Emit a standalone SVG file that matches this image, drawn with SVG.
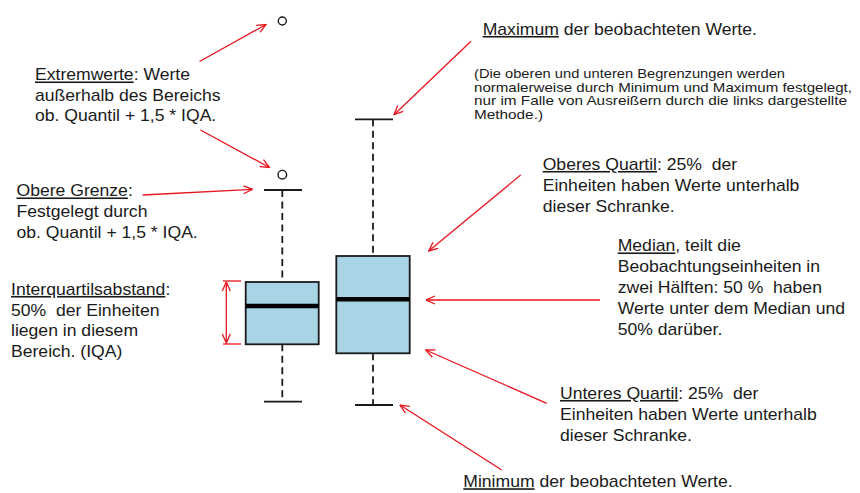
<svg xmlns="http://www.w3.org/2000/svg" width="860" height="493" viewBox="0 0 860 493">
<defs>
<marker id="ah" viewBox="0 0 10 10" refX="9.5" refY="5" markerWidth="10" markerHeight="10" orient="auto-start-reverse" markerUnits="userSpaceOnUse">
<path d="M0.5,1 L9.5,5 L0.5,9" fill="none" stroke="#e8141e" stroke-width="1.3"/>
</marker>
<style>
.t{font-family:"Liberation Sans",Arial,sans-serif;font-size:16px;fill:#1a1a1a}
.s{font-family:"Liberation Sans",Arial,sans-serif;font-size:13.5px;fill:#1a1a1a}
.u{text-decoration:underline}
.box{fill:#a9d4e6;stroke:#1a1a1a;stroke-width:1.8}
.med{stroke:#000;stroke-width:4.5}
.wh{stroke:#1a1a1a;stroke-width:1.8;stroke-dasharray:7 4.5;fill:none}
.cap{stroke:#1a1a1a;stroke-width:1.8}
.out{fill:none;stroke:#1a1a1a;stroke-width:1.4}
.ar{stroke:#e8141e;stroke-width:1.3;fill:none;marker-end:url(#ah)}
</style>
</defs>
<rect width="860" height="493" fill="#fff"/>

<g id="boxplot-left">
<circle class="out" cx="282.3" cy="21" r="4"/>
<circle class="out" cx="282.3" cy="174.7" r="4.3"/>
<line class="cap" x1="264" y1="190" x2="302" y2="190"/>
<line class="wh" x1="282.3" y1="190" x2="282.3" y2="282"/>
<rect class="box" x="245.7" y="282" width="73" height="62.3"/>
<line class="med" x1="245.7" y1="306" x2="318.7" y2="306"/>
<line class="wh" x1="282.3" y1="344.3" x2="282.3" y2="401.7"/>
<line class="cap" x1="264" y1="401.7" x2="302" y2="401.7"/>
</g>

<g id="boxplot-right">
<line class="cap" x1="355" y1="119.3" x2="393" y2="119.3"/>
<line class="wh" x1="373" y1="119.3" x2="373" y2="256"/>
<rect class="box" x="336.3" y="256" width="73.4" height="97.3"/>
<line class="med" x1="336.3" y1="299.3" x2="409.7" y2="299.3"/>
<line class="wh" x1="373" y1="353.3" x2="373" y2="405"/>
<line class="cap" x1="355" y1="405" x2="393" y2="405"/>
</g>

<g id="connectors">
<line class="ar" x1="199.5" y1="61.5" x2="266" y2="24.5"/>
<line class="ar" x1="200.5" y1="130" x2="269.5" y2="167.5"/>
<line class="ar" x1="142.7" y1="195" x2="252.5" y2="189.3"/>
<line x1="223" y1="281" x2="241" y2="281" stroke="#e8141e" stroke-width="1.3"/>
<line x1="223" y1="344" x2="241" y2="344" stroke="#e8141e" stroke-width="1.3"/>
<line x1="226.3" y1="282" x2="226.3" y2="343" stroke="#e8141e" stroke-width="1.3" marker-start="url(#ah)" marker-end="url(#ah)"/>
<line class="ar" x1="471" y1="41.3" x2="394" y2="114.7"/>
<line class="ar" x1="520.7" y1="175" x2="428.7" y2="251"/>
<line class="ar" x1="600" y1="300" x2="426" y2="300"/>
<line class="ar" x1="546.7" y1="403.3" x2="425.7" y2="350"/>
<line class="ar" x1="501.7" y1="470" x2="400" y2="405"/>
</g>

<g id="label-extremwerte" transform="translate(35,0) scale(1.1,1)">
<text class="t" x="0" y="80.5"><tspan class="u">Extremwerte</tspan>: Werte</text>
<text class="t" x="0" y="101">außerhalb des Bereichs</text>
<text class="t" x="0" y="121.5">ob. Quantil + 1,5 * IQA.</text>
</g>

<g id="label-obere-grenze" transform="translate(16.5,0) scale(1.1,1)">
<text class="t" x="0" y="196.5"><tspan class="u">Obere Grenze</tspan>:</text>
<text class="t" x="0" y="217.3">Festgelegt durch</text>
<text class="t" x="0" y="238">ob. Quantil + 1,5 * IQA.</text>
</g>

<g id="label-iqa" transform="translate(11,0) scale(1.1,1)">
<text class="t" x="0" y="295"><tspan class="u">Interquartilsabstand</tspan>:</text>
<text class="t" x="0" y="316" xml:space="preserve">50%  der Einheiten</text>
<text class="t" x="0" y="336.5">liegen in diesem</text>
<text class="t" x="0" y="357.5">Bereich. (IQA)</text>
</g>

<g id="label-maximum" transform="translate(482.7,0) scale(1.1,1)">
<text class="t" x="0" y="35"><tspan class="u">Maximum</tspan> der beobachteten Werte.</text>
</g>

<g id="label-note">
<text class="s" x="474" y="78" textLength="311" lengthAdjust="spacingAndGlyphs">(Die oberen und unteren Begrenzungen werden</text>
<text class="s" x="474" y="91.5" textLength="378" lengthAdjust="spacingAndGlyphs">normalerweise durch Minimum und Maximum festgelegt,</text>
<text class="s" x="474" y="105" textLength="373" lengthAdjust="spacingAndGlyphs">nur im Falle von Ausreißern durch die links dargestellte</text>
<text class="s" x="474" y="118.5" textLength="69" lengthAdjust="spacingAndGlyphs">Methode.)</text>
</g>

<g id="label-oberes-quartil" transform="translate(542.7,0) scale(1.1,1)">
<text class="t" x="0" y="170" xml:space="preserve"><tspan class="u">Oberes Quartil</tspan>: 25%  der</text>
<text class="t" x="0" y="191.5">Einheiten haben Werte unterhalb</text>
<text class="t" x="0" y="212.5">dieser Schranke.</text>
</g>

<g id="label-median" transform="translate(617.7,0) scale(1.1,1)">
<text class="t" x="0" y="251.5"><tspan class="u">Median</tspan>, teilt die</text>
<text class="t" x="0" y="272.3">Beobachtungseinheiten in</text>
<text class="t" x="0" y="293.3" xml:space="preserve">zwei Hälften: 50 %  haben</text>
<text class="t" x="0" y="314.3">Werte unter dem Median und</text>
<text class="t" x="0" y="335">50% darüber.</text>
</g>

<g id="label-unteres-quartil" transform="translate(560,0) scale(1.1,1)">
<text class="t" x="0" y="399" xml:space="preserve"><tspan class="u">Unteres Quartil</tspan>: 25%  der</text>
<text class="t" x="0" y="420.5">Einheiten haben Werte unterhalb</text>
<text class="t" x="0" y="441">dieser Schranke.</text>
</g>

<g id="label-minimum" transform="translate(463.3,0) scale(1.1,1)">
<text class="t" x="0" y="487.3"><tspan class="u">Minimum</tspan> der beobachteten Werte.</text>
</g>
</svg>
